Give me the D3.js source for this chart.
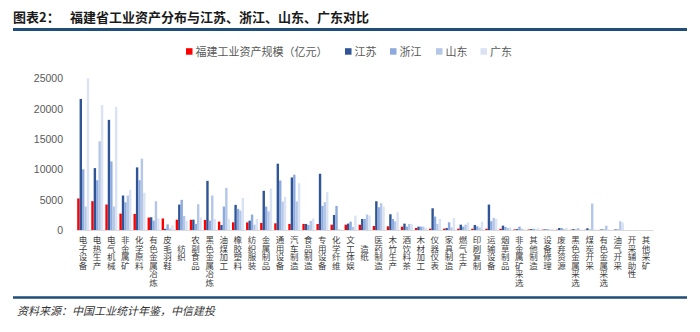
<!DOCTYPE html>
<html>
<head>
<meta charset="utf-8">
<script src="https://cdn.jsdelivr.net/npm/d3@7/dist/d3.min.js"></script>
<style>
  html, body { margin: 0; padding: 0; background: #fff; }
  svg { display: block; }
</style>
</head>
<body>
<svg id="chart" width="700" height="332"></svg>
<script>
// 行业分类（按福建资产规模排序）
const categories = ["电子设备","电热生产","电气机械","非金属矿","化学原料","有色金属冶炼","皮毛羽鞋","\u3000纺织","农副食品","黑色金属冶炼","油煤加工","橡胶塑料","纺织服装","金属制品","通用设备","汽车制造","食品制造","专用设备","化学纤维","文工体娱","\u3000造纸","医药制造","木竹生产","酒饮料茶","木材加工","仪器仪表","家具制造","燃气生产","印刷复制","运输设备","烟草制品","非金属矿采选","其他制造","设备修理","废弃资源","黑色金属采选","煤炭开采","有色金属采选","油气开采","开采辅助性","其他采矿"];

const seriesNames = ["福建工业资产规模（亿元）", "江苏", "浙江", "山东", "广东"];

const fujian   = [5200,4750,4200,2700,2650,2050,1900,1700,1680,1660,1380,1260,1250,1160,1100,1000,1000,990,880,880,870,660,610,550,330,220,220,220,210,210,200,100,80,60,50,40,30,20,10,5,2];
const jiangsu  = [21600,10200,18150,5680,10320,2100,200,4190,1700,8100,830,4140,1540,6460,10930,8660,1000,9270,2480,1050,1820,4740,2590,1050,550,3580,330,880,830,4190,720,150,150,100,330,150,280,100,100,0,0];
const zhejiang = [10000,8200,11300,4570,8200,1540,930,4970,1000,1540,3860,3480,2540,3860,8160,9110,830,3970,3970,1380,1820,3750,1820,550,550,2210,1270,550,610,1440,500,550,200,150,330,100,100,100,100,0,0];
const shandong = [3860,14620,3860,5680,11760,4740,250,2320,4240,5680,6950,3200,880,3080,4690,4690,1490,4580,100,500,2540,4410,1440,1000,550,1000,440,880,400,2000,330,200,100,80,150,330,4360,710,1440,0,0];
const guangdong= [25000,20580,20300,6620,6130,1900,750,1540,2100,1820,1820,5300,1820,6840,5460,7720,1880,6230,50,2370,2370,3860,2920,1000,330,1820,2000,1220,1380,1820,440,100,300,200,330,80,100,80,1220,0,0];

const yTicks = [0, 5000, 10000, 15000, 20000, 25000];
const colors = ["#ff0000", "#2f5597", "#8faadc", "#b4c7e7", "#dae3f3"];

const series = [fujian, jiangsu, zhejiang, shandong, guangdong];
const rows = categories.map((c, i) => ({ cat: c, values: series.map(s => s[i]) }));

const svg = d3.select("#chart");
svg.append("rect").attr("width", 700).attr("height", 332).attr("fill", "#fff");

// 标题与上下分隔线
svg.append("text")
  .attr("x", 13).attr("y", 22)
  .attr("font-family", "'Noto Sans CJK SC', sans-serif")
  .attr("font-size", 13).attr("font-weight", "bold").attr("fill", "#1a1a1a")
  .text("图表2：");
svg.append("text")
  .attr("x", 70).attr("y", 22)
  .attr("font-family", "'Noto Sans CJK SC', sans-serif")
  .attr("font-size", 13).attr("font-weight", "bold").attr("fill", "#1a1a1a")
  .text("福建省工业资产分布与江苏、浙江、山东、广东对比");
svg.append("line").attr("x1", 13).attr("x2", 687).attr("y1", 29.5).attr("y2", 29.5)
  .attr("stroke", "#1f4e79").attr("stroke-width", 3);
svg.append("line").attr("x1", 13).attr("x2", 687).attr("y1", 297.5).attr("y2", 297.5)
  .attr("stroke", "#1f4e79").attr("stroke-width", 2.5);
svg.append("text")
  .attr("x", 17).attr("y", 315)
  .attr("font-family", "'Noto Sans CJK SC', sans-serif")
  .attr("font-size", 11).attr("font-style", "italic").attr("fill", "#333")
  .text("资料来源：中国工业统计年鉴，中信建投");

// 比例尺
const x0 = d3.scaleBand().domain(categories).range([76, 653]).padding(0);
const x1 = d3.scaleBand().domain(d3.range(5)).range([1.2, 13.2]).padding(0);
const y = d3.scaleLinear().domain([0, 25000]).range([230, 78.3]);

// 柱形
const groups = svg.append("g").selectAll("g").data(rows).join("g")
  .attr("transform", d => `translate(${x0(d.cat)},0)`);
groups.selectAll("rect").data(d => d.values).join("rect")
  .attr("x", (v, i) => x1(i))
  .attr("width", x1.bandwidth())
  .attr("y", v => y(v))
  .attr("height", v => y(0) - y(v))
  .attr("fill", (v, i) => colors[i]);

// 纵轴刻度标签
const yAxis = svg.append("g").attr("transform", "translate(63,0)")
  .call(d3.axisLeft(y).tickValues(yTicks).tickSize(0).tickPadding(0).tickFormat(d3.format("d")));
yAxis.select(".domain").remove();
yAxis.selectAll("text")
  .attr("font-family", "'Liberation Sans', Arial, sans-serif")
  .attr("font-size", 10.5).attr("fill", "#595959");

// 横轴：类目名竖排
const xAxis = svg.append("g").attr("transform", "translate(0,230)")
  .call(d3.axisBottom(x0).tickSize(0).tickPadding(0));
xAxis.select(".domain").attr("stroke", "#d9d9d9").attr("stroke-width", 1.2);
xAxis.selectAll("text")
  .attr("font-family", "'Noto Sans CJK SC', sans-serif")
  .attr("font-size", 8.5).attr("fill", "#404040")
  .attr("dy", null)
  .attr("y", 6)
  .attr("x", 0)
  .style("writing-mode", "vertical-rl")
  .style("text-orientation", "upright")
  .attr("text-anchor", "start");

// 图例
const legendItems = [
  { name: seriesNames[0], x: 186 },
  { name: seriesNames[1], x: 345 },
  { name: seriesNames[2], x: 390 },
  { name: seriesNames[3], x: 436 },
  { name: seriesNames[4], x: 480.5 }
];
const lg = svg.append("g").selectAll("g").data(legendItems).join("g")
  .attr("transform", d => `translate(${d.x},51.5)`);
lg.append("rect").attr("x", 0).attr("y", -3.3).attr("width", 6.5).attr("height", 6.5)
  .attr("fill", (d, i) => colors[i]);
lg.append("text").attr("x", 9.5).attr("y", 4)
  .attr("font-family", "'Noto Sans CJK SC', sans-serif")
  .attr("font-size", 11).attr("fill", "#595959")
  .text(d => d.name);
</script>
</body>
</html>
